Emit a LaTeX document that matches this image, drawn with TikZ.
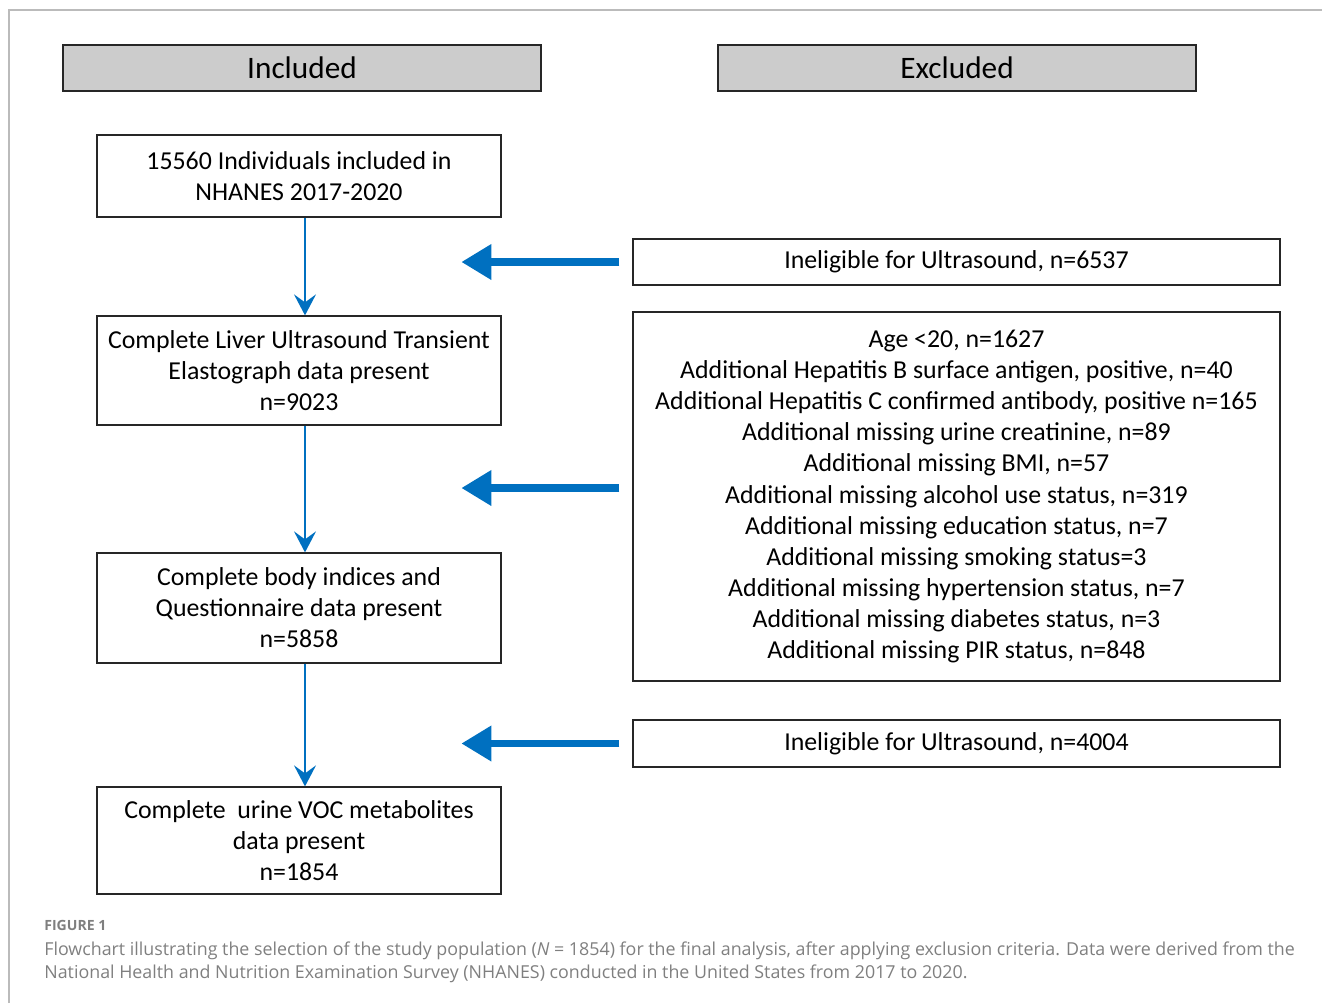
\documentclass[tikz,border=0pt]{standalone}
\usepackage{fontspec}
\setmainfont{Carlito}
\newfontfamily\capfont{Open Sans}
\usepackage{xcolor}
\usetikzlibrary{arrows.meta, positioning, calc}
\definecolor{flowblue}{HTML}{0070C0}
\definecolor{headgray}{HTML}{CCCCCC}
\definecolor{framegray}{HTML}{BBBBBB}
\definecolor{capgray}{HTML}{7F7F7F}

\begin{document}
\begin{tikzpicture}[
    header/.style={rectangle, draw=black!85, line width=0.8pt, fill=headgray, minimum width=9.56cm, minimum height=0.92cm, font=\fontsize{17.8}{20}\selectfont},
    block/.style={rectangle, draw=black!85, line width=0.7pt, minimum width=8.08cm, align=center, font=\fontsize{14.7}{17.7}\selectfont},
    exblock/.style={rectangle, draw=black!85, line width=0.7pt, minimum width=12.94cm, align=center, font=\fontsize{14.7}{17.7}\selectfont},
    flow/.style={-{Stealth[length=0.42cm, width=0.44cm, inset=0.16cm]}, flowblue, line width=1.1pt},
    bigarrow/.style={-{Triangle[length=0.6cm, width=0.68cm]}, flowblue, line width=4pt}
]
\useasboundingbox (0,0) rectangle (26.44,-20.06);
% frame
\draw[framegray, line width=1.6pt] (0.18,-20.06) -- (0.18,-0.2) -- (26.44,-0.2);

% Column headers
\node[header] (incl) at (6.04,-1.36) {Included};
\node[header] (excl) at (19.14,-1.36) {Excluded};

% Included path
\node[block, minimum height=1.64cm] (all) at (5.98,-3.52) {15560 Individuals included in\\NHANES 2017-2020};
\node[block, minimum height=2.18cm] (liver) at (5.98,-7.41) {Complete Liver Ultrasound Transient\\Elastograph data present\\n=9023};
\node[block, minimum height=2.2cm] (body) at (5.98,-12.16) {Complete body indices and\\Questionnaire data present\\n=5858};
\node[block, minimum height=2.14cm] (voc) at (5.98,-16.81) {Complete\ \ urine VOC metabolites\\data present\\n=1854};

% Excluded path
\node[exblock, minimum height=0.92cm] (ineligA) at (19.13,-5.24) {Ineligible for Ultrasound, n=6537};
\node[exblock, minimum height=7.38cm] (missing) at (19.13,-9.93) {Age {<}20, n=1627\\
Additional Hepatitis B surface antigen, positive, n=40\\
Additional Hepatitis C confirmed antibody, positive n=165\\
Additional missing urine creatinine, n=89\\
Additional missing BMI, n=57\\
Additional missing alcohol use status, n=319\\
Additional missing education status, n=7\\
Additional missing smoking status=3\\
Additional missing hypertension status, n=7\\
Additional missing diabetes status, n=3\\
Additional missing PIR status, n=848};
\node[exblock, minimum height=0.94cm] (ineligB) at (19.13,-14.87) {Ineligible for Ultrasound, n=4004};

\draw[flow] ([xshift=0.12cm]all.south) -- ([xshift=0.12cm]liver.north);
\draw[flow] ([xshift=0.12cm]liver.south) -- ([xshift=0.12cm]body.north);
\draw[flow] ([xshift=0.12cm]body.south) -- ([xshift=0.12cm]voc.north);

\draw[bigarrow] ([xshift=-0.26cm]ineligA.west) -- ([xshift=-3.42cm]ineligA.west);
\draw[bigarrow] ($(missing.west)+(-0.26,0.17)$) -- ($(missing.west)+(-3.42,0.17)$);
\draw[bigarrow] ([xshift=-0.26cm]ineligB.west) -- ([xshift=-3.42cm]ineligB.west);

% Caption
\node[anchor=west, inner sep=0pt, text=capgray, font=\capfont\fontsize{8}{10}\selectfont\bfseries] (figlab) at (0.88,-18.5) {FIGURE 1};
\node[anchor=north west, inner sep=0pt, align=left, text=capgray, font=\capfont\fontsize{10.15}{13.2}\selectfont] (caption) at (0.88,-18.82) {Flowchart illustrating the selection of the study population (\textit{N} = 1854) for the final analysis, after applying exclusion criteria. Data were derived from the\\National Health and Nutrition Examination Survey (NHANES) conducted in the United States from 2017 to 2020.};
\end{tikzpicture}
\end{document}
